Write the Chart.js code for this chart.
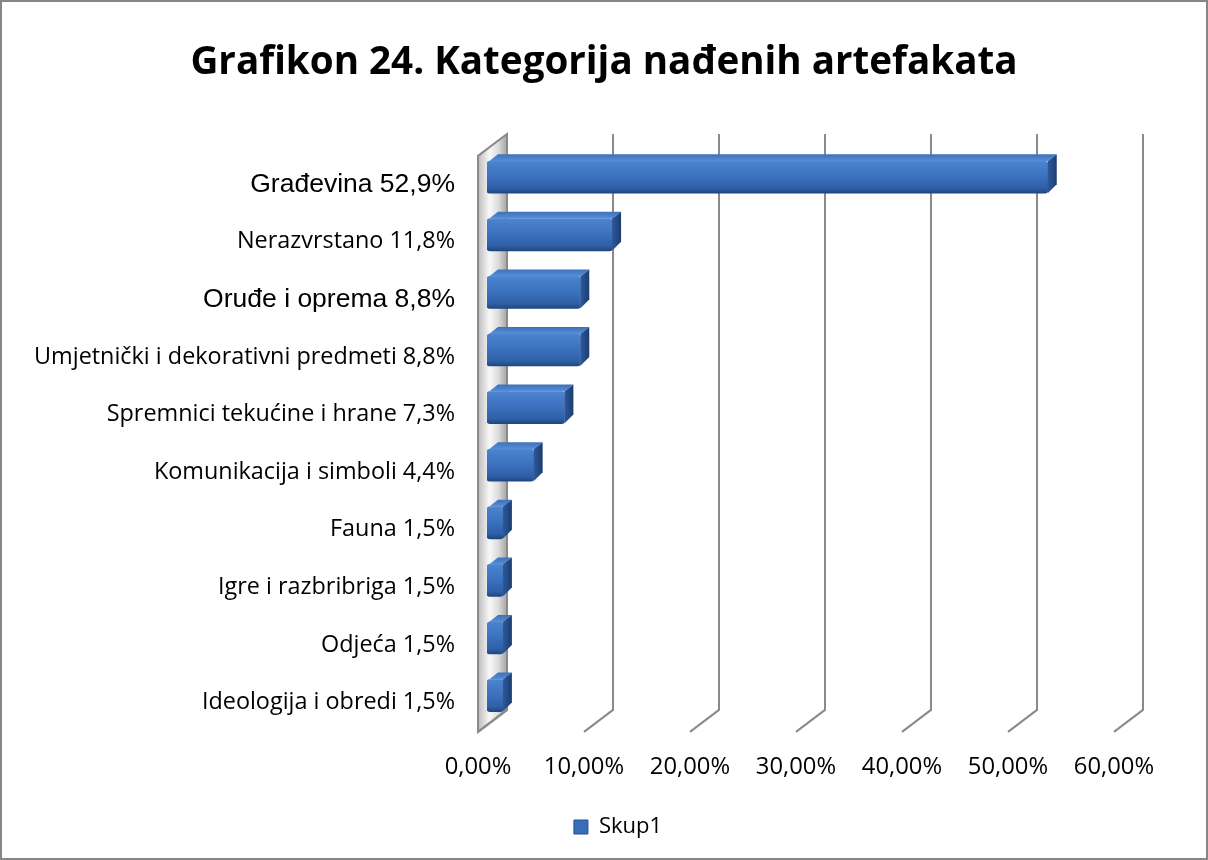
<!DOCTYPE html>
<html>
<head>
<meta charset="utf-8">
<script src="https://cdn.jsdelivr.net/npm/chart.js@4.4.1/dist/chart.umd.min.js"></script>
<style>
  html, body { margin: 0; padding: 0; background: #fff; }
</style>
</head>
<body>
<canvas id="myChart" width="1208" height="860"></canvas>
<script>
// categories, shares (in %) and the axis ticks
var names = ['Građevina', 'Nerazvrstano', 'Oruđe i oprema', 'Umjetnički i dekorativni predmeti',
  'Spremnici tekućine i hrane', 'Komunikacija i simboli', 'Fauna', 'Igre i razbribriga',
  'Odjeća', 'Ideologija i obredi'];
var shares = [52.9, 11.8, 8.8, 8.8, 7.3, 4.4, 1.5, 1.5, 1.5, 1.5];
var xTicks = [0, 10, 20, 30, 40, 50, 60];
var seriesName = 'Skup1';
var chartTitle = 'Grafikon 24. Kategorija nađenih artefakata';

// rows whose label was typed in Arial instead of Calibri
var arialRows = [0, 2];

var labels = names.map(function (n, i) {
  return n + ' ' + String(shares[i]).replace('.', ',') + '%';
});

// fake 3D: offsets of front plane, back plane and bar depth from the bar plane
var FRONT = { dx: -9, dy: 7.5 };
var BACK = { dx: 20, dy: -14.5 };
var DEPTH = { dx: 9, dy: -7 };
var BAR_H = 32;
var SANS = 'Open Sans';

function poly(ctx, pts) {
  ctx.beginPath();
  ctx.moveTo(pts[0][0], pts[0][1]);
  for (var i = 1; i < pts.length; i++) ctx.lineTo(pts[i][0], pts[i][1]);
  ctx.closePath();
}

var depthPlugin = {
  id: 'depth',
  afterLayout: function (chart) {
    // legend sits a bit right of centre
    if (chart.legend) chart.legend.left += 28;
  },
  beforeDraw: function (chart) {
    var ctx = chart.ctx;
    ctx.save();
    ctx.fillStyle = '#ffffff';
    ctx.fillRect(0, 0, chart.width, chart.height);
    ctx.strokeStyle = '#868686';
    ctx.lineWidth = 2;
    ctx.strokeRect(1, 1, chart.width - 2, chart.height - 2);
    ctx.restore();
  },
  beforeDatasetsDraw: function (chart) {
    var ctx = chart.ctx, a = chart.chartArea, xs = chart.scales.x;
    var x0 = xs.getPixelForValue(0);
    ctx.save();
    // side wall along the category axis
    var wall = [
      [x0 + FRONT.dx, a.top + FRONT.dy],
      [x0 + BACK.dx, a.top + BACK.dy],
      [x0 + BACK.dx, a.bottom + BACK.dy],
      [x0 + FRONT.dx, a.bottom + FRONT.dy]
    ];
    var g = ctx.createLinearGradient(x0 + FRONT.dx, 0, x0 + BACK.dx, 0);
    g.addColorStop(0, '#bcbcbc');
    g.addColorStop(0.4, '#f8f8f8');
    g.addColorStop(0.7, '#dcdcdc');
    g.addColorStop(1, '#a4a4a4');
    poly(ctx, wall);
    ctx.fillStyle = g;
    ctx.fill();
    ctx.strokeStyle = '#8a8a8a';
    ctx.lineWidth = 2;
    ctx.stroke();
    // grid lines on the back wall, bent forward at the floor
    xTicks.forEach(function (v) {
      var px = xs.getPixelForValue(v);
      ctx.beginPath();
      ctx.moveTo(px + BACK.dx, a.top + BACK.dy);
      ctx.lineTo(px + BACK.dx, a.bottom + BACK.dy);
      ctx.lineTo(px + FRONT.dx, a.bottom + FRONT.dy);
      ctx.stroke();
    });
    ctx.restore();
  },
  afterDatasetsDraw: function (chart) {
    var ctx = chart.ctx;
    var meta = chart.getDatasetMeta(0);
    ctx.save();
    meta.data.forEach(function (bar) {
      var p = bar.getProps(['x', 'y', 'base', 'height'], true);
      var top = p.y - p.height / 2, bot = p.y + p.height / 2;
      // top face
      var gt = ctx.createLinearGradient(0, top + DEPTH.dy, 0, top);
      gt.addColorStop(0, '#3c70bb');
      gt.addColorStop(1, '#5a90d8');
      poly(ctx, [[p.base + 2, top], [p.x, top], [p.x + DEPTH.dx, top + DEPTH.dy], [p.base + DEPTH.dx + 2, top + DEPTH.dy]]);
      ctx.fillStyle = gt;
      ctx.fill();
      // end face
      var gr = ctx.createLinearGradient(p.x, 0, p.x + DEPTH.dx, 0);
      gr.addColorStop(0, '#2c5a9c');
      gr.addColorStop(1, '#1c3d6e');
      poly(ctx, [[p.x, top], [p.x + DEPTH.dx, top + DEPTH.dy], [p.x + DEPTH.dx, bot + DEPTH.dy - 2], [p.x, bot]]);
      ctx.fillStyle = gr;
      ctx.fill();
    });
    ctx.restore();
  }
};

var ctx = document.getElementById('myChart');
var myChart = new Chart(ctx, {
  type: 'bar',
  data: {
    labels: labels,
    datasets: [{
      label: seriesName,
      data: shares,
      barThickness: BAR_H,
      borderRadius: 3,
      borderSkipped: false,
      backgroundColor: function (c) {
        var chart = c.chart;
        if (!chart.chartArea) return '#3a6cbc';
        var yc = chart.scales.y.getPixelForValue(c.dataIndex);
        var g = chart.ctx.createLinearGradient(0, yc - BAR_H / 2, 0, yc + BAR_H / 2);
        g.addColorStop(0, '#4c84cf');
        g.addColorStop(0.45, '#3c72c0');
        g.addColorStop(0.85, '#2f5fa6');
        g.addColorStop(1, '#1f4680');
        return g;
      }
    }]
  },
  options: {
    indexAxis: 'y',
    responsive: false,
    animation: false,
    layout: { padding: { left: 0, right: 0, top: 0, bottom: 12 } },
    plugins: {
      title: {
        display: true,
        text: chartTitle,
        color: '#000',
        font: { family: SANS, size: 38.6, weight: 'bold', lineHeight: 1.2 },
        padding: { top: 40, bottom: 62.1 }
      },
      legend: {
        position: 'bottom',
        labels: {
          color: '#000',
          font: { family: SANS, size: 22 },
          boxWidth: 14,
          boxHeight: 14,
          generateLabels: function () {
            return [{ text: seriesName, fillStyle: '#3a6cbc', strokeStyle: '#24508e', lineWidth: 1, hidden: false, datasetIndex: 0 }];
          }
        }
      },
      tooltip: { enabled: false }
    },
    scales: {
      x: {
        min: 0,
        max: 60,
        grid: { display: false, drawTicks: false },
        border: { display: false },
        afterBuildTicks: function (scale) {
          scale.ticks = xTicks.map(function (v) { return { value: v }; });
        },
        afterFit: function (scale) { scale.height = 81.6; },
        ticks: {
          color: '#000',
          padding: 29,
          labelOffset: FRONT.dx,
          font: { family: SANS, size: 23.8 },
          callback: function (v) { return v.toFixed(2).replace('.', ',') + '%'; }
        }
      },
      y: {
        grid: { display: false, drawTicks: false },
        border: { display: false },
        afterFit: function (scale) { scale.width = 487; },
        ticks: {
          color: '#000',
          padding: 32,
          labelOffset: 7,
          font: function (c) {
            if (arialRows.indexOf(c.index) >= 0) return { family: 'Liberation Sans', size: 26.5 };
            return { family: SANS, size: 23.4 };
          }
        }
      },
      // empty strip that keeps the plot clear of the right edge
      yEdge: {
        type: 'linear',
        position: 'right',
        grid: { display: false, drawTicks: false },
        border: { display: false },
        ticks: { display: false },
        afterFit: function (scale) { scale.width = 85; }
      }
    }
  },
  plugins: [depthPlugin]
});
</script>
</body>
</html>
